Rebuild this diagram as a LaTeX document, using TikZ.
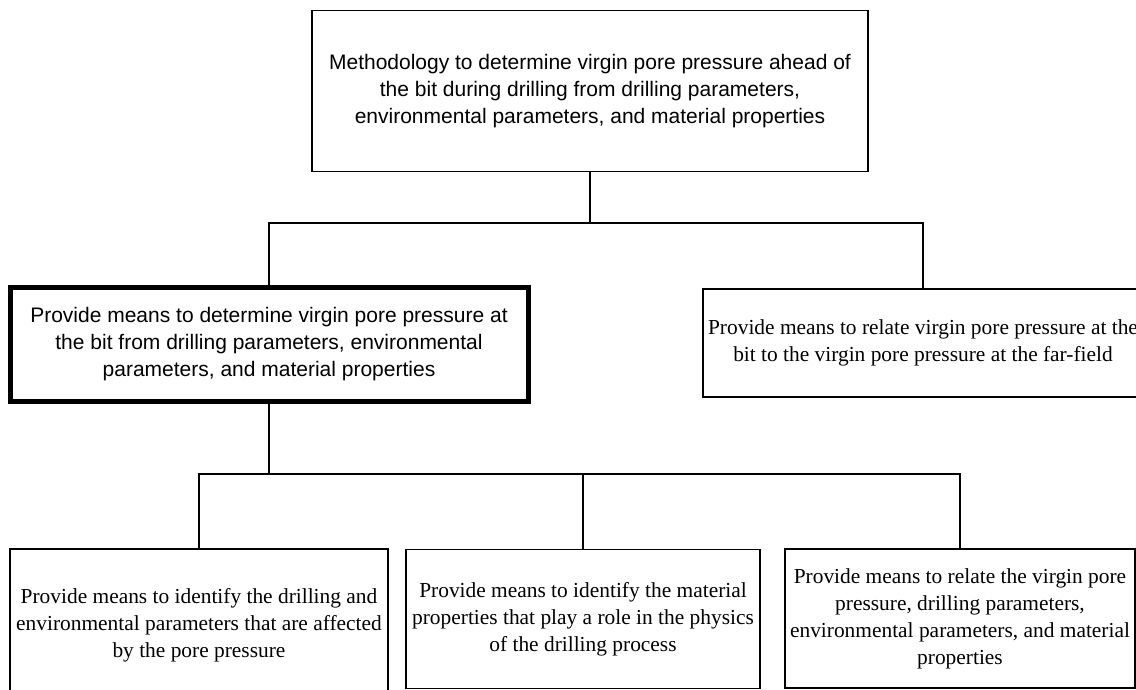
\documentclass[tikz,border=0pt]{standalone}
\usepackage{fontspec}
\setmainfont{Liberation Serif}
\newfontfamily\arialf{Liberation Sans}
\begin{document}
\begin{tikzpicture}[x=1pt,y=-1pt,
  box/.style={draw=black, line width=1.4pt, fill=white, rectangle, inner sep=0pt, align=center},
  sansbox/.style={box, font=\arialf\fontsize{21}{27}\selectfont},
  serifbox/.style={box, font=\fontsize{21.4}{27}\selectfont},
  link/.style={draw=black, line width=1.3pt}]
\useasboundingbox (0,0) rectangle (1136,690);
\node[sansbox, minimum width=556pt, minimum height=161pt] (top) at (590,91)
  {Methodology to determine virgin pore pressure ahead of\\the bit during drilling from drilling parameters,\\environmental parameters, and material properties};
\node[sansbox, line width=5pt, minimum width=518pt, minimum height=114pt] (left) at (269,344)
  {Provide means to determine virgin pore pressure at\\the bit from drilling parameters, environmental\\parameters, and material properties};
\node[serifbox, minimum width=440pt, minimum height=108pt] (right) at (923,343)
  {Provide means to relate virgin pore pressure at the\\bit to the virgin pore pressure at the far-field};
\node[serifbox, minimum width=378pt, minimum height=152pt] (b1) at (199,625)
  {Provide means to identify the drilling and\\environmental parameters that are affected\\by the pore pressure};
\node[serifbox, minimum width=354pt, minimum height=139pt] (b2) at (583,619)
  {Provide means to identify the material\\properties that play a role in the physics\\of the drilling process};
\node[serifbox, minimum width=350pt, minimum height=139pt] (b3) at (960,618.5)
  {Provide means to relate the virgin pore\\pressure, drilling parameters,\\environmental parameters, and material\\properties};
\coordinate (j1) at (0,223);
\coordinate (j2) at (0,474);
\draw[link] (top.south) -- (top.south |- j1);
\draw[link] (left.north) -- (left.north |- j1) -- (right.north |- j1) -- (right.north);
\draw[link] (left.south) -- (left.south |- j2);
\draw[link] (b1.north) -- (b1.north |- j2) -- (b3.north |- j2) -- (b3.north);
\draw[link] (b2.north) -- (b2.north |- j2);
\end{tikzpicture}
\end{document}
